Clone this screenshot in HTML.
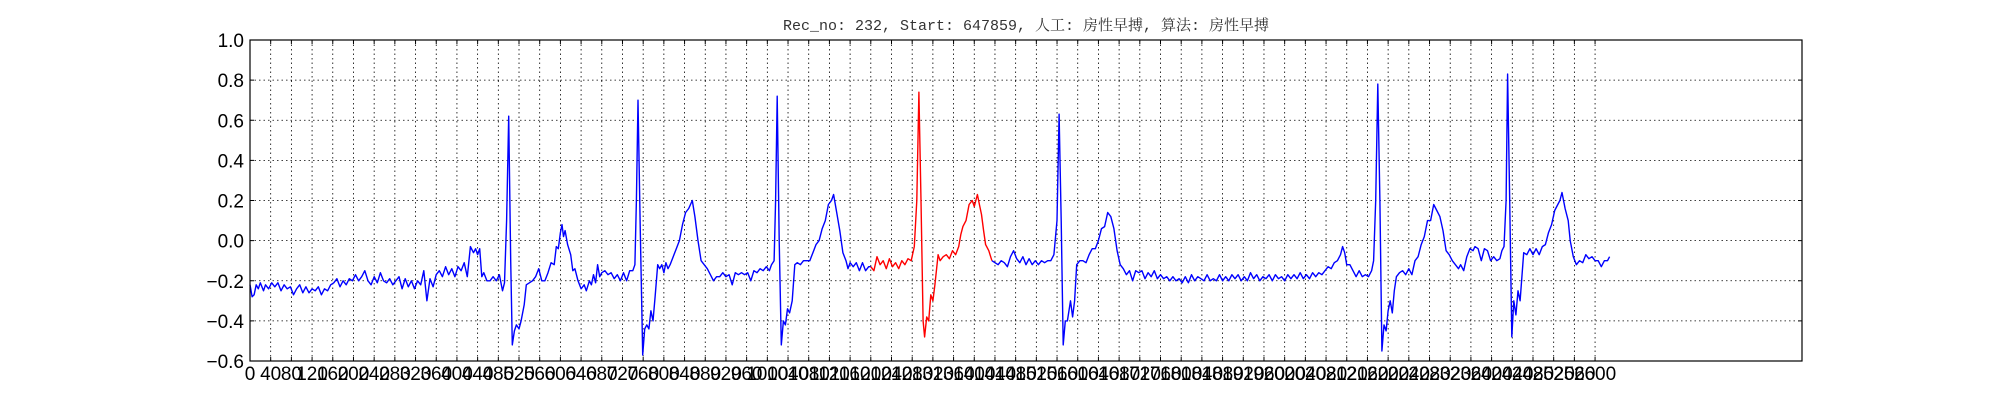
<!DOCTYPE html>
<html><head><meta charset="utf-8"><style>
html,body{margin:0;padding:0;background:#fff;}
svg{display:block;}
</style></head><body>
<svg id="chart" width="2000" height="400" xmlns="http://www.w3.org/2000/svg">
<text x="1026" y="30" text-anchor="middle" font-family="'Liberation Mono','Noto Serif CJK SC',monospace" font-size="15" fill="#333">Rec_no: 232, Start: 647859, 人工: 房性早搏, 算法: 房性早搏</text>
<g id="grid"></g>
<g id="ticks"></g>
<g id="series"></g>
<rect x="250" y="40" width="1552" height="321" fill="none" stroke="#000" stroke-width="1.2"/>
</svg>
<script>
const sampleIdx = [0,4,8,12,16,20,26,30,36,42,48,54,60,66,72,78,84,90,96,102,108,114,120,126,132,138,144,150,156,162,168,174,180,186,192,198,204,210,216,222,228,234,240,246,252,258,264,270,276,282,288,294,300,306,312,318,324,330,336,342,348,354,360,366,372,378,384,390,396,402,408,414,420,426,432,436,440,444,448,452,458,464,470,476,482,488,492,496,500,504,507,511,515,520,524,530,534,540,546,552,558,564,570,576,582,588,592,596,600,603,606,609,614,620,624,628,634,640,646,650,656,660,664,668,672,676,680,686,692,698,704,710,716,722,728,734,740,744,747,750,754,759,763,767,771,775,779,783,788,792,796,800,804,808,812,818,824,830,836,842,848,855,860,866,872,878,884,890,896,902,908,914,920,926,932,938,944,950,956,962,968,974,980,986,992,998,1004,1008,1013,1016,1019,1023,1027,1031,1035,1039,1043,1048,1053,1058,1064,1070,1076,1082,1088,1094,1100,1106,1112,1118,1124,1128,1134,1140,1146,1152,1156,1160,1166,1172,1178,1184,1190,1196,1200,1206,1212,1218,1224,1230,1236,1242,1248,1254,1260,1266,1272,1278,1284,1289,1293,1297,1301,1304,1308,1312,1316,1320,1324,1330,1334,1340,1346,1352,1358,1364,1370,1374,1378,1384,1390,1396,1400,1406,1410,1414,1418,1422,1428,1434,1440,1446,1452,1458,1464,1470,1476,1482,1488,1494,1500,1506,1512,1518,1524,1530,1536,1542,1548,1554,1560,1564,1568,1572,1576,1580,1586,1590,1594,1598,1604,1610,1616,1622,1628,1634,1640,1646,1652,1658,1664,1670,1676,1682,1688,1694,1700,1706,1712,1718,1724,1730,1736,1742,1748,1754,1760,1766,1772,1778,1784,1790,1796,1802,1808,1814,1820,1826,1832,1838,1844,1850,1856,1862,1868,1874,1880,1886,1892,1898,1904,1910,1916,1922,1928,1934,1940,1946,1952,1958,1964,1970,1976,1982,1988,1994,2000,2006,2012,2018,2024,2030,2036,2042,2048,2054,2060,2066,2072,2078,2084,2090,2096,2102,2108,2112,2116,2120,2126,2132,2138,2144,2150,2156,2162,2168,2172,2176,2180,2184,2188,2192,2196,2200,2204,2208,2212,2216,2222,2228,2234,2240,2246,2252,2258,2264,2270,2276,2282,2288,2294,2300,2306,2312,2318,2324,2330,2336,2340,2346,2352,2358,2364,2368,2374,2380,2386,2392,2398,2404,2410,2416,2420,2424,2428,2431,2435,2439,2443,2447,2451,2455,2462,2468,2474,2480,2486,2492,2498,2504,2510,2516,2522,2528,2532,2536,2542,2548,2552,2558,2564,2570,2576,2582,2588,2594,2600,2606,2612,2618,2624,2628];
const signal = [-0.22,-0.28,-0.27,-0.22,-0.24,-0.21,-0.25,-0.22,-0.24,-0.21,-0.23,-0.21,-0.25,-0.22,-0.24,-0.23,-0.27,-0.24,-0.22,-0.26,-0.23,-0.26,-0.24,-0.25,-0.23,-0.27,-0.24,-0.25,-0.22,-0.21,-0.19,-0.23,-0.2,-0.22,-0.19,-0.2,-0.17,-0.2,-0.18,-0.15,-0.2,-0.22,-0.18,-0.21,-0.16,-0.2,-0.21,-0.19,-0.22,-0.2,-0.18,-0.24,-0.19,-0.23,-0.2,-0.24,-0.2,-0.22,-0.15,-0.3,-0.19,-0.23,-0.17,-0.15,-0.18,-0.13,-0.17,-0.14,-0.18,-0.13,-0.15,-0.11,-0.18,-0.03,-0.06,-0.04,-0.07,-0.04,-0.18,-0.16,-0.2,-0.2,-0.18,-0.2,-0.17,-0.25,-0.21,0.1,0.62,-0.1,-0.52,-0.45,-0.42,-0.44,-0.4,-0.32,-0.22,-0.21,-0.2,-0.18,-0.14,-0.2,-0.2,-0.16,-0.11,-0.12,-0.03,-0.04,0.04,0.08,0.02,0.05,-0.02,-0.07,-0.15,-0.14,-0.2,-0.24,-0.22,-0.25,-0.2,-0.22,-0.17,-0.21,-0.12,-0.18,-0.16,-0.15,-0.17,-0.16,-0.19,-0.17,-0.2,-0.16,-0.2,-0.15,-0.15,-0.12,0.2,0.7,0.1,-0.57,-0.44,-0.42,-0.44,-0.35,-0.4,-0.28,-0.12,-0.14,-0.12,-0.16,-0.11,-0.14,-0.12,-0.08,-0.04,0.0,0.08,0.14,0.16,0.2,0.12,0.0,-0.1,-0.12,-0.14,-0.17,-0.2,-0.18,-0.18,-0.16,-0.18,-0.17,-0.22,-0.16,-0.17,-0.16,-0.17,-0.16,-0.2,-0.15,-0.16,-0.14,-0.15,-0.13,-0.15,-0.12,-0.1,0.2,0.72,0.0,-0.52,-0.4,-0.42,-0.34,-0.36,-0.3,-0.12,-0.11,-0.12,-0.1,-0.1,-0.1,-0.06,-0.02,0.0,0.06,0.1,0.18,0.2,0.23,0.14,0.05,-0.06,-0.1,-0.14,-0.11,-0.13,-0.11,-0.15,-0.11,-0.15,-0.13,-0.13,-0.15,-0.08,-0.12,-0.1,-0.14,-0.09,-0.13,-0.11,-0.14,-0.1,-0.12,-0.09,-0.1,-0.03,0.2,0.74,0.2,-0.4,-0.48,-0.38,-0.4,-0.27,-0.3,-0.22,-0.07,-0.1,-0.08,-0.07,-0.09,-0.05,-0.07,-0.03,0.03,0.07,0.1,0.18,0.2,0.17,0.23,0.18,0.13,0.05,-0.02,-0.05,-0.1,-0.11,-0.12,-0.1,-0.11,-0.13,-0.08,-0.05,-0.09,-0.11,-0.08,-0.12,-0.09,-0.12,-0.1,-0.12,-0.1,-0.11,-0.1,-0.1,-0.07,0.1,0.63,0.1,-0.52,-0.4,-0.4,-0.3,-0.38,-0.3,-0.12,-0.1,-0.1,-0.11,-0.07,-0.04,-0.04,0.0,0.06,0.07,0.14,0.12,0.06,-0.05,-0.12,-0.14,-0.17,-0.15,-0.2,-0.15,-0.16,-0.15,-0.19,-0.16,-0.18,-0.15,-0.19,-0.17,-0.19,-0.18,-0.2,-0.18,-0.2,-0.19,-0.21,-0.18,-0.21,-0.17,-0.2,-0.18,-0.19,-0.2,-0.17,-0.2,-0.19,-0.2,-0.17,-0.2,-0.18,-0.2,-0.17,-0.19,-0.17,-0.2,-0.18,-0.2,-0.16,-0.19,-0.17,-0.2,-0.18,-0.19,-0.17,-0.2,-0.17,-0.19,-0.18,-0.2,-0.17,-0.19,-0.17,-0.19,-0.16,-0.19,-0.17,-0.19,-0.16,-0.18,-0.16,-0.17,-0.15,-0.13,-0.14,-0.11,-0.1,-0.07,-0.03,-0.06,-0.12,-0.12,-0.15,-0.18,-0.15,-0.18,-0.17,-0.18,-0.15,-0.1,0.2,0.78,0.2,-0.55,-0.42,-0.45,-0.35,-0.3,-0.36,-0.25,-0.18,-0.16,-0.15,-0.17,-0.14,-0.17,-0.1,-0.08,-0.02,0.02,0.1,0.1,0.18,0.15,0.12,0.05,-0.05,-0.07,-0.1,-0.12,-0.14,-0.12,-0.15,-0.08,-0.04,-0.05,-0.03,-0.04,-0.1,-0.04,-0.05,-0.1,-0.08,-0.1,-0.09,-0.05,-0.03,0.2,0.83,0.2,-0.48,-0.3,-0.37,-0.25,-0.3,-0.06,-0.07,-0.04,-0.07,-0.04,-0.07,-0.03,-0.02,0.04,0.08,0.15,0.18,0.2,0.24,0.16,0.1,0.0,-0.08,-0.12,-0.1,-0.11,-0.07,-0.09,-0.08,-0.1,-0.1,-0.13,-0.1,-0.1,-0.08];
const highlightRange = [1198, 1436];
const yTicks = [1.0,0.8,0.6,0.4,0.2,0.0,-0.2,-0.4,-0.6];
const xTickStep = 40;
const xTickMax = 2600;
const xDomain = [0, 3000];
const yDomain = [-0.6, 1.0];

const L=250,R=1802,T=40,B=361;
const xs = s => L + (s - xDomain[0]) / (xDomain[1]-xDomain[0]) * (R-L);
const ys = v => B - (v - yDomain[0]) / (yDomain[1]-yDomain[0]) * (B-T);
const NS='http://www.w3.org/2000/svg';
const grid=document.getElementById('grid'), ticks=document.getElementById('ticks'), series=document.getElementById('series');
function mk(tag, attrs, parent){const e=document.createElementNS(NS,tag);for(const k in attrs)e.setAttribute(k,attrs[k]);parent.appendChild(e);return e;}

for (let t=0; t<=xTickMax; t+=xTickStep){
  const x=xs(t);
  const g=mk('line',{x1:x,y1:T,x2:x,y2:B,stroke:'#000','stroke-width':0.8,'stroke-dasharray':'1.5,3'},grid);
  
  
  mk('line',{x1:x,y1:B,x2:x,y2:B-4,stroke:'#000','stroke-width':1},ticks);
  mk('line',{x1:x,y1:T,x2:x,y2:T+4,stroke:'#000','stroke-width':1},ticks);
  const lb=mk('text',{x:x,y:B+19,'text-anchor':'middle','font-family':"'Liberation Sans',sans-serif",'font-size':19,fill:'#000'},ticks);
  lb.textContent=String(t);
  
  
}
yTicks.forEach(v=>{
  const y=ys(v);
  const g=mk('line',{x1:L,y1:y,x2:R,y2:y,stroke:'#000','stroke-width':0.8,'stroke-dasharray':'1.5,3'},grid);
  
  
  mk('line',{x1:L,y1:y,x2:L+4,y2:y,stroke:'#000','stroke-width':1},ticks);
  mk('line',{x1:R,y1:y,x2:R-4,y2:y,stroke:'#000','stroke-width':1},ticks);
  const lb=mk('text',{x:L-6,y:y+7,'text-anchor':'end','font-family':"'Liberation Sans',sans-serif",'font-size':19,fill:'#000'},ticks);
  lb.textContent=v.toFixed(1).replace('-','\u2212');
  
  
});

function seg(filter){
  const pts=[];
  for(let i=0;i<sampleIdx.length;i++){ if(filter(sampleIdx[i])) pts.push(xs(sampleIdx[i]).toFixed(1)+','+ys(signal[i]).toFixed(1)); }
  return pts.join(' ');
}
const inRed = s => s>=highlightRange[0] && s<=highlightRange[1];
const firstRed = sampleIdx.findIndex(inRed);
let lastRed = -1; sampleIdx.forEach((s,i)=>{ if(inRed(s)) lastRed=i; });
const blue1 = mk('polyline',{points:seg(s=>s<=sampleIdx[firstRed]),fill:'none',stroke:'#0000ff','stroke-width':1.4,'stroke-linejoin':'round'},series);


const red = mk('polyline',{points:seg(inRed),fill:'none',stroke:'#ff0000','stroke-width':1.4,'stroke-linejoin':'round'},series);


const blue2 = mk('polyline',{points:seg(s=>s>=sampleIdx[lastRed]),fill:'none',stroke:'#0000ff','stroke-width':1.4,'stroke-linejoin':'round'},series);


</script>
</body></html>
